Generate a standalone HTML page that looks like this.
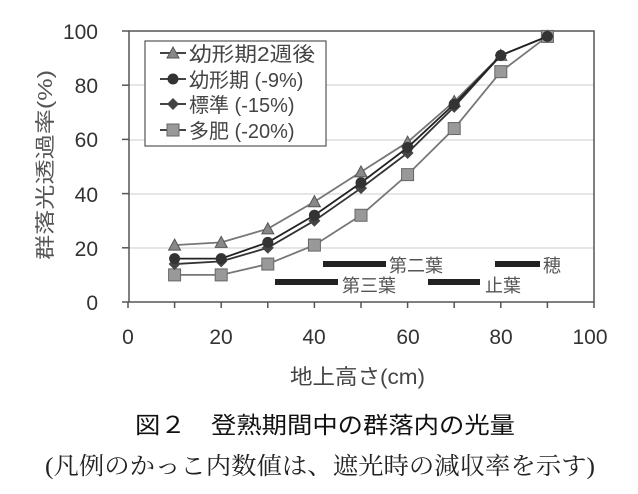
<!DOCTYPE html>
<html><head><meta charset="utf-8"><style>
body{margin:0;background:#fff;width:638px;height:494px;overflow:hidden}
svg{display:block}
</style></head><body>
<svg id="s" width="638" height="494" xmlns="http://www.w3.org/2000/svg" font-family="'Liberation Sans','Noto Sans CJK JP',sans-serif">
<g stroke="#e6e6e6" stroke-width="2">
<line x1="129" y1="248" x2="594" y2="248"/><line x1="129" y1="194" x2="594" y2="194"/>
<line x1="129" y1="140" x2="594" y2="140"/><line x1="129" y1="85" x2="594" y2="85"/>
</g>
<rect x="129" y="31" width="465" height="271" fill="none" stroke="#555" stroke-width="1.5"/>
<g stroke="#555" stroke-width="1.5" id="ticks"></g>
<g font-size="21" fill="#333" text-anchor="end">
<text x="98" y="39">100</text><text x="98" y="93">80</text><text x="98" y="147">60</text>
<text x="98" y="202">40</text><text x="98" y="256">20</text><text x="98" y="310">0</text>
</g>
<g font-size="21" fill="#333" text-anchor="middle">
<text x="128" y="344">0</text><text x="221" y="344">20</text><text x="314" y="344">40</text>
<text x="408" y="344">60</text><text x="501" y="344">80</text><text x="590" y="344">100</text>
</g>
<text x="290" y="384" font-size="21" fill="#444" textLength="135" lengthAdjust="spacingAndGlyphs">地上高さ(cm)</text>
<text transform="translate(52,165) rotate(-90)" font-size="20" fill="#555" text-anchor="middle" textLength="190" lengthAdjust="spacingAndGlyphs">群落光透過率(%)</text>
<g fill="#222">
<rect x="323" y="261" width="63" height="6"/><rect x="275" y="279" width="63" height="6"/>
<rect x="428" y="279" width="52" height="6"/><rect x="495" y="261" width="45" height="6"/>
</g>
<g font-size="18" fill="#555">
<text x="389" y="272">第二葉</text><text x="342" y="292">第三葉</text>
<text x="485" y="292">止葉</text><text x="543" y="272">穂</text>
</g>
<g id="series"></g>
<rect x="145" y="41" width="181" height="105" fill="#fff" stroke="#555" stroke-width="1.2"/>
<g id="leg"></g>
<g font-size="20" fill="#444">
<text x="189" y="61" textLength="126" lengthAdjust="spacingAndGlyphs">幼形期2週後</text><text x="189" y="87">幼形期 (-9%)</text>
<text x="189" y="112">標準 (-15%)</text><text x="189" y="138">多肥 (-20%)</text>
</g>
<text x="135" y="433" font-size="23" fill="#111" textLength="380" lengthAdjust="spacingAndGlyphs">図２　登熟期間中の群落内の光量</text>
<text x="45" y="474" font-size="24" fill="#222" textLength="550" lengthAdjust="spacingAndGlyphs" font-family="'Liberation Serif','Noto Serif CJK SC',serif">(凡例のかっこ内数値は、遮光時の減収率を示す)</text>
</svg>
<script>
const X=v=>128+4.66*v, Y=v=>302-2.71*v, ns="http://www.w3.org/2000/svg";
function el(p,t,a){const e=document.createElementNS(ns,t);for(const k in a)e.setAttribute(k,a[k]);p.appendChild(e);return e;}
const tk=document.getElementById('ticks');
for(let i=0;i<=5;i++){el(tk,'line',{x1:122,x2:129,y1:Y(i*20),y2:Y(i*20)});}
for(let i=0;i<=10;i++){el(tk,'line',{x1:X(i*10),x2:X(i*10),y1:302,y2:308});}
const S=[
{d:[21,22,27,37,48,59,74,91,98],m:'tri',c:'#888',lc:'#777'},
{d:[10,10,14,21,32,47,64,85,98],m:'sq',c:'#999',lc:'#777'},
{d:[14,15,20,30,42,55,72,91,98],m:'dia',c:'#444',lc:'#333'},
{d:[16,16,22,32,44,57,73,91,98],m:'cir',c:'#333',lc:'#222'}];
const g=document.getElementById('series');
function mk(p,m,x,y,c){
 if(m=='tri')el(p,'polygon',{points:`${x},${y-6} ${x-6},${y+5} ${x+6},${y+5}`,fill:c,stroke:'#555'});
 if(m=='sq')el(p,'rect',{x:x-6,y:y-6,width:12,height:12,fill:c,stroke:'#666'});
 if(m=='dia')el(p,'polygon',{points:`${x},${y-6} ${x+6},${y} ${x},${y+6} ${x-6},${y}`,fill:c});
 if(m=='cir')el(p,'circle',{cx:x,cy:y,r:5.5,fill:c});
}
S.forEach(s=>{el(g,'polyline',{points:s.d.map((v,i)=>X(10+10*i)+','+Y(v)).join(' '),fill:'none',stroke:s.lc,'stroke-width':1.8});
 s.d.forEach((v,i)=>mk(g,s.m,X(10+10*i),Y(v),s.c));});
const L=document.getElementById('leg');
[['tri','#888',53],['cir','#333',79],['dia','#444',104],['sq','#999',130]].forEach(([m,c,y])=>{
 el(L,'line',{x1:160,x2:186,y1:y,y2:y,stroke:'#444','stroke-width':2});mk(L,m,173,y,c);});
</script>
</body></html>
